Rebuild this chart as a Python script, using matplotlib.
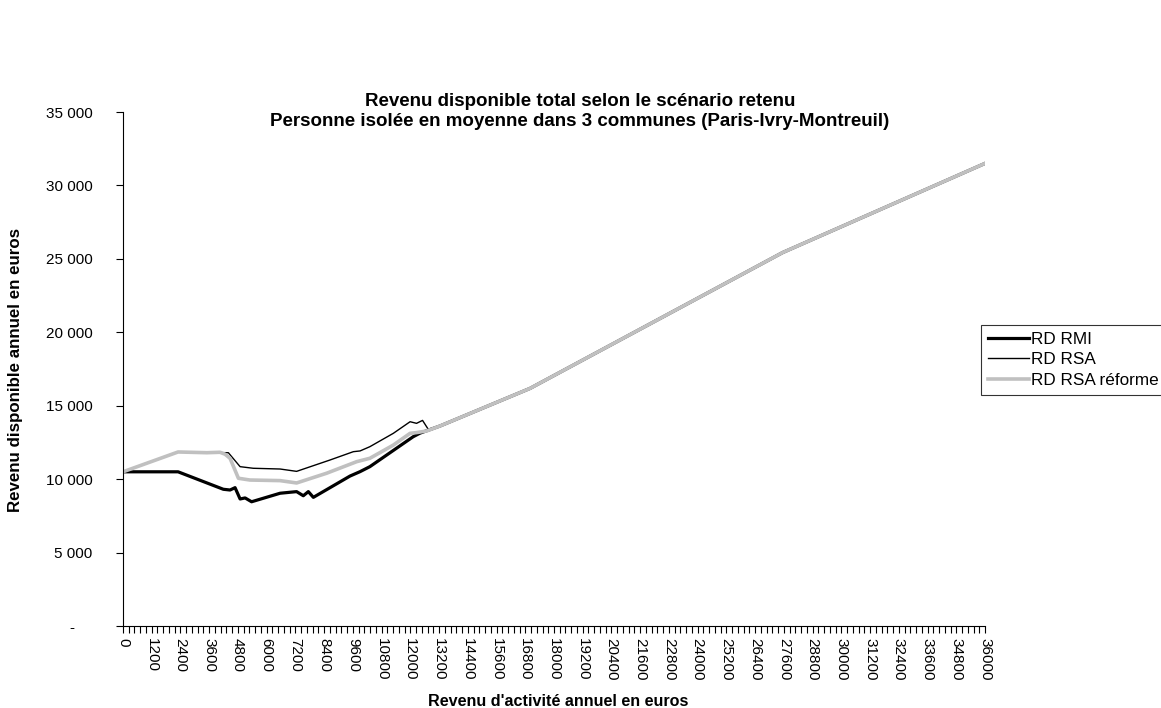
import matplotlib
matplotlib.use("Agg")
import matplotlib.pyplot as plt
from matplotlib.ticker import MultipleLocator, FixedLocator

plt.rcParams['font.family'] = ['Liberation Sans', 'DejaVu Sans']

# partie commune des trois courbes (au-dela de ~13200 euros)
x_common = [13240, 17000, 27550, 36000]
y_common = [13620, 16180, 25430, 31500]

# RD RMI
x_rmi = [0, 2300, 4190, 4470, 4680, 4890, 5100, 5370, 6560, 7250, 7530, 7740,
         7950, 9480, 9900, 10310, 12120, 12400]
y_rmi = [10500, 10500, 9310, 9260, 9420, 8650, 8720, 8460, 9040, 9150, 8870, 9150,
         8760, 10210, 10510, 10850, 12890, 13130]

# RD RSA
x_rsa = [0, 2300, 4400, 4890, 5440, 6560, 7250, 8640, 9620, 9900, 10310, 11290,
         11990, 12260, 12510, 12750]
y_rsa = [10500, 11850, 11800, 10850, 10740, 10690, 10530, 11300, 11870, 11920, 12210, 13120,
         13910, 13800, 14000, 13390]

# RD RSA reforme
x_ref = [0, 2300, 3500, 4050, 4260, 4470, 4820, 5300, 6560, 7250, 8500, 9760,
         10310, 11290, 11990, 12260, 12680]
y_ref = [10500, 11850, 11800, 11830, 11700, 11420, 10060, 9940, 9900, 9740, 10400, 11190,
         11420, 12320, 13120, 13170, 13280]

x_labels = list(range(0, 36001, 1200))
y_ticks = [0, 5000, 10000, 15000, 20000, 25000, 30000, 35000]


def fmt(v):
    if v == 0:
        return "-     "
    return "{:,}".format(v).replace(",", " ") + " "


fig = plt.figure(figsize=(11.61, 7.08), dpi=100)
ax = fig.add_axes([123 / 1161, 1 - 626 / 708, (985 - 123) / 1161, (626 - 112) / 708])

ax.plot(x_rmi + x_common, y_rmi + y_common, color="black", lw=2.3, label="RD RMI")
ax.plot(x_rsa + x_common, y_rsa + y_common, color="black", lw=1.0, label="RD RSA")
ax.plot(x_ref + x_common, y_ref + y_common, color="#c0c0c0", lw=2.6, label="RD RSA réforme")

ax.set_xlim(0, 36000)
ax.set_ylim(0, 35000)
ax.spines['top'].set_visible(False)
ax.spines['right'].set_visible(False)

ax.xaxis.set_major_locator(FixedLocator(x_labels))
ax.xaxis.set_minor_locator(MultipleLocator(240))
ax.set_xticklabels([str(v) for v in x_labels], rotation=-90, fontsize=11)
ax.tick_params(axis='x', which='both', direction='out', length=5, width=0.8, pad=4)

ax.set_yticks(y_ticks)
ax.set_yticklabels([fmt(v) for v in y_ticks], fontsize=11)
ax.tick_params(axis='y', direction='out', length=5, width=0.8, pad=14)

fig.text(0.4996, 1 - 101 / 708, "Revenu disponible total selon le scénario retenu",
         ha="center", va="center", fontsize=13.5, fontweight="bold")
fig.text(0.4996, 1 - 122 / 708, "Personne isolée en moyenne dans 3 communes (Paris-Ivry-Montreuil)",
         ha="center", va="center", fontsize=13.5, fontweight="bold")
fig.text(558 / 1161, 1 - 702 / 708, "Revenu d'activité annuel en euros",
         ha="center", va="center", fontsize=11.6, fontweight="bold")
fig.text(16 / 1161, 1 - 370 / 708, "Revenu disponible annuel en euros",
         ha="center", va="center", rotation=90, fontsize=12.2, fontweight="bold")

leg = fig.legend(loc="upper left", bbox_to_anchor=(981 / 1161, 1 - 325 / 708),
                 frameon=True, fancybox=False, shadow=False, fontsize=12.3,
                 handlelength=2.4, handletextpad=0.1, labelspacing=0.32,
                 borderpad=0.4, borderaxespad=0)
leg.get_frame().set_edgecolor("black")
leg.get_frame().set_linewidth(0.8)

fig.savefig("out.png", dpi=100)
